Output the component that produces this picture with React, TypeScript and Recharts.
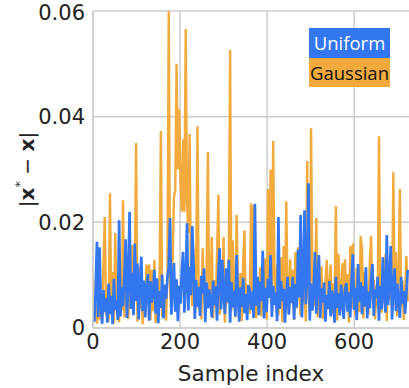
import React from 'react';
import { LineChart, Line, XAxis, YAxis, CartesianGrid } from 'recharts';

// Reconstruction error |x* - x| per sample, read every 3rd sample index, values in units of 1e-3
const uniformErr = [
  3.5, 1.2, 6.8, 16.3, 2.1, 15.3, 4.4, 0.8, 7.2, 3.0,
  5.6, 1.0, 8.4, 2.6, 6.1, 0.7, 9.3, 3.4, 5.2, 1.5,
  20.4, 2.2, 7.7, 4.1, 9.8, 16.8, 1.9, 8.8, 22.0, 3.6,
  10.5, 2.4, 16.0, 5.1, 12.2, 1.6, 8.3, 13.5, 3.2, 9.0,
  2.0, 7.5, 10.2, 1.4, 8.9, 4.8, 6.6, 11.0, 2.7, 9.4,
  0.9, 7.0, 3.8, 10.1, 1.8, 8.2, 5.5, 9.6, 11.5, 20.8,
  2.5, 7.4, 12.3, 3.1, 9.2, 1.3, 8.0, 4.6, 10.8, 14.4,
  2.9, 8.5, 19.8, 3.3, 11.6, 6.2, 19.3, 11.8, 1.7, 9.1,
  4.0, 7.8, 2.3, 9.9, 6.5, 11.3, 1.1, 8.6, 3.7, 7.3,
  5.0, 2.0, 9.0, 4.3, 7.9, 1.4, 10.4, 15.1, 3.5, 12.9,
  6.0, 2.6, 11.3, 4.9, 12.9, 1.0, 8.7, 3.9, 7.1, 2.2,
  13.8, 5.3, 1.2, 7.7, 4.0, 9.5, 2.8, 6.4, 1.5, 8.1,
  7.2, 3.4, 6.9, 1.9, 23.5, 4.2, 9.7, 2.4, 8.8, 5.1,
  14.6, 1.8, 7.6, 3.0, 9.3, 5.7, 13.8, 2.1, 8.0, 4.4,
  6.7, 1.3, 21.0, 3.6, 8.9, 5.2, 7.4, 1.0, 6.1, 9.7,
  2.5, 7.8, 4.7, 9.7, 1.6, 8.3, 3.9, 14.8, 5.8, 21.4,
  2.0, 9.6, 22.3, 4.5, 10.7, 27.4, 1.4, 8.4, 3.3, 7.0,
  14.4, 2.7, 9.1, 13.8, 1.9, 7.5, 4.8, 8.6, 1.2, 6.3,
  3.6, 8.9, 2.2, 7.1, 5.4, 1.0, 9.7, 3.8, 6.6, 2.4,
  8.2, 4.9, 1.7, 7.4, 8.5, 3.1, 6.8, 2.0, 9.0, 14.0,
  3.4, 7.6, 1.5, 12.1, 5.0, 8.7, 2.6, 7.9, 4.1, 11.5,
  1.8, 6.9, 3.7, 9.2, 12.1, 2.3, 7.3, 5.6, 9.7, 1.4,
  8.0, 3.5, 13.4, 6.2, 2.9, 17.6, 4.3, 8.8, 15.5, 1.6,
  7.7, 11.3, 3.2, 8.4, 5.1, 1.9, 9.7, 4.6, 7.0, 2.7,
  6.4, 11.0,
];

const gaussianErr = [
  9.7, 2.0, 4.5, 0.8, 6.2, 1.6, 5.3, 3.0, 12.5, 21.0,
  2.4, 8.1, 1.3, 25.5, 3.7, 10.6, 0.9, 18.0, 4.2, 7.5,
  1.1, 6.8, 3.3, 24.2, 2.0, 9.4, 13.5, 1.7, 7.3, 4.0,
  15.7, 2.8, 8.6, 35.0, 1.2, 11.5, 3.6, 9.8, 0.7, 5.9,
  2.6, 12.0, 4.4, 12.0, 1.5, 11.0, 3.2, 12.9, 0.9, 6.0,
  4.7, 9.7, 37.3, 2.1, 7.6, 5.5, 1.4, 10.3, 60.0, 8.0,
  3.0, 12.6, 24.8, 26.0, 50.0, 30.0, 41.4, 28.0, 22.0, 35.7,
  22.0, 56.6, 24.0, 18.0, 36.7, 9.5, 4.1, 15.0, 2.3, 11.2,
  38.2, 3.5, 8.7, 1.6, 15.1, 6.0, 2.9, 10.5, 33.3, 4.8,
  7.4, 17.2, 1.8, 9.1, 3.9, 14.0, 25.2, 2.5, 11.8, 5.2,
  17.2, 1.0, 8.3, 4.6, 13.0, 52.6, 3.4, 16.6, 6.9, 2.0,
  21.4, 7.7, 4.1, 10.4, 1.3, 12.6, 18.5, 3.8, 8.2, 5.5,
  2.7, 23.6, 6.3, 23.3, 9.6, 1.9, 7.0, 4.3, 11.5, 2.2,
  8.5, 5.0, 13.2, 1.6, 26.3, 7.8, 30.0, 3.1, 35.4, 9.9,
  4.6, 12.0, 2.4, 7.5, 13.4, 1.1, 15.5, 4.0, 24.0, 6.6,
  2.8, 13.0, 5.6, 11.0, 1.5, 14.4, 3.7, 15.3, 7.1, 2.3,
  10.0, 4.9, 8.1, 1.2, 31.6, 6.4, 3.0, 37.8, 9.5, 4.2,
  7.6, 20.8, 2.0, 9.0, 5.8, 11.7, 1.7, 6.3, 9.0, 12.9,
  3.5, 7.9, 12.0, 2.6, 8.4, 5.1, 23.1, 1.4, 14.0, 4.4,
  6.7, 12.3, 2.1, 13.0, 4.8, 10.2, 1.0, 15.5, 3.6, 16.0,
  5.9, 2.3, 11.4, 6.5, 3.0, 17.4, 15.0, 1.8, 10.6, 4.1,
  7.3, 2.5, 12.8, 17.4, 5.4, 9.1, 1.6, 8.0, 3.9, 36.3,
  6.1, 2.9, 11.0, 4.7, 14.0, 1.3, 12.2, 5.5, 9.3, 3.4,
  29.5, 7.0, 14.4, 2.2, 10.1, 26.3, 4.0, 8.9, 1.5, 6.8,
  13.6, 5.0,
];

const SAMPLE_STEP = 3;
const VALUE_UNIT = 1e-3;
const xTicks = [0, 200, 400, 600];
const yTicks = [0, 0.02, 0.04, 0.06];
const seriesNames = { uniform: 'Uniform', gaussian: 'Gaussian' };
const xAxisTitle = 'Sample index';

const data = uniformErr.map((u, k) => ({
  idx: k * SAMPLE_STEP,
  uniform: u * VALUE_UNIT,
  gaussian: gaussianErr[k] * VALUE_UNIT,
}));

const BLUE = '#3277F0';
const ORANGE = '#F2AA3D';
const GRID = '#cccccc';
const TEXT = '#222222';
const FONT = '"DejaVu Sans", sans-serif';

const W = 409;
const H = 388;

const renderYLabel = (props: any) => {
  const vb = props.viewBox || { x: 0, y: 11, width: 93, height: 317 };
  const cx = 26.5;
  const cy = vb.y + vb.height / 2;
  return (
    <text
      x={cx}
      y={cy}
      transform={`rotate(-90, ${cx}, ${cy})`}
      textAnchor="middle"
      dominantBaseline="central"
      fontFamily={FONT}
      fontSize={20}
      fill={TEXT}
    >
      <tspan>|</tspan>
      <tspan fontWeight="bold">x</tspan>
      <tspan fontSize={13} dy={-8}>*</tspan>
      <tspan dy={8}> − </tspan>
      <tspan fontWeight="bold">x</tspan>
      <tspan>|</tspan>
    </text>
  );
};

const renderXLabel = (props: any) => {
  const vb = props.viewBox || { x: 93, y: 328, width: 316, height: 60 };
  return (
    <text
      x={vb.x + vb.width / 2}
      y={381}
      textAnchor="middle"
      fontFamily={FONT}
      fontSize={21.5}
      fill={TEXT}
    >
      {xAxisTitle}
    </text>
  );
};

const yFmt = (v: number) => (v === 0 ? '0' : v.toFixed(2));

export default function App() {
  return (
    <div style={{ position: 'absolute', left: 0, top: 0, width: W, height: H }}>
      <LineChart width={W} height={H} data={data} margin={{ top: 11, right: 0, bottom: 0, left: 0 }}>
        <CartesianGrid stroke={GRID} strokeWidth={1.5} horizontalValues={yTicks} verticalValues={xTicks} />
        <XAxis
          type="number"
          dataKey="idx"
          domain={[0, 726]}
          ticks={xTicks}
          allowDataOverflow
          height={60}
          tickLine={false}
          tickSize={4}
          axisLine={{ stroke: GRID, strokeWidth: 1.5 }}
          tick={{ fontFamily: FONT, fontSize: 21, fill: TEXT }}
          label={renderXLabel}
        />
        <YAxis
          type="number"
          domain={[0, 0.06]}
          ticks={yTicks}
          allowDataOverflow
          width={93}
          tickLine={false}
          tickSize={6}
          axisLine={{ stroke: GRID, strokeWidth: 1.5 }}
          tick={{ fontFamily: FONT, fontSize: 21, fill: TEXT }}
          tickFormatter={yFmt}
          label={renderYLabel}
        />
        <Line
          type="linear"
          dataKey="gaussian"
          name={seriesNames.gaussian}
          stroke={ORANGE}
          strokeWidth={2.4}
          dot={false}
          activeDot={false}
          isAnimationActive={false}
        />
        <Line
          type="linear"
          dataKey="uniform"
          name={seriesNames.uniform}
          stroke={BLUE}
          strokeWidth={2.7}
          dot={false}
          activeDot={false}
          isAnimationActive={false}
        />
      </LineChart>
      <div
        style={{
          position: 'absolute',
          left: 309,
          top: 28,
          width: 81,
          fontFamily: '"Open Sans", sans-serif',
          fontSize: 18.5,
          textAlign: 'center',
          lineHeight: '29.5px',
        }}
      >
        <div style={{ background: BLUE, color: '#ffffff', height: 29.5 }}>{seriesNames.uniform}</div>
        <div style={{ background: ORANGE, color: '#111111', height: 29.5 }}>{seriesNames.gaussian}</div>
      </div>
    </div>
  );
}
